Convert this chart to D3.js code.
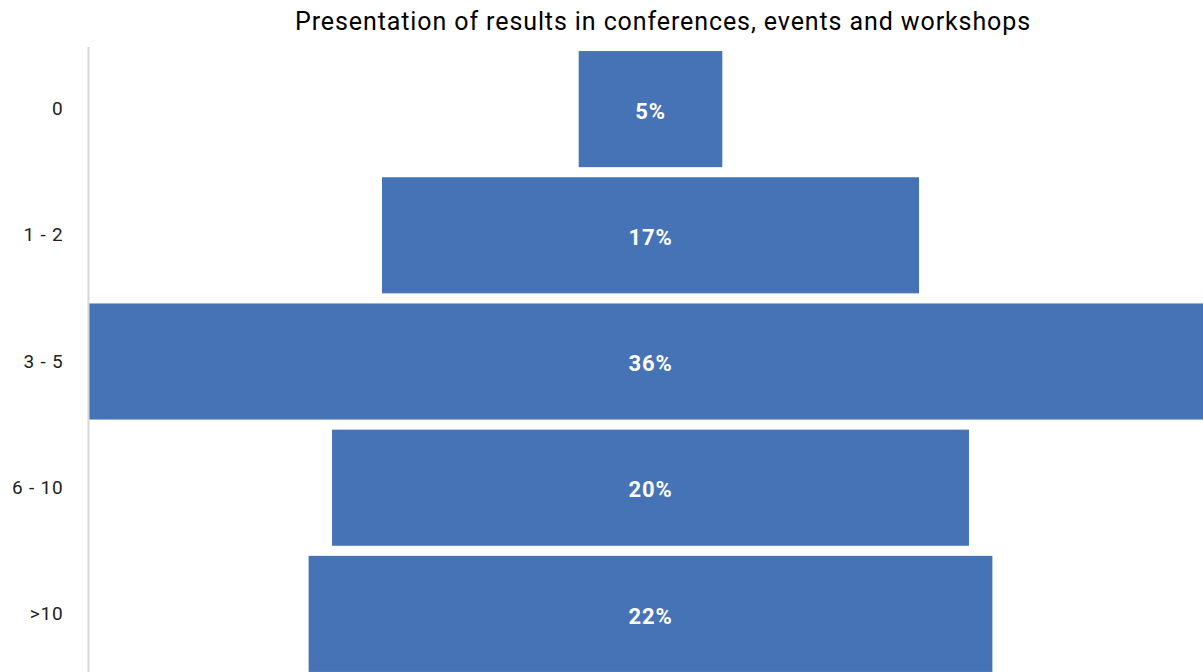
<!DOCTYPE html>
<html><head><meta charset="utf-8">
<script src="https://cdn.jsdelivr.net/npm/d3@7"></script>
<style>
html,body{margin:0;padding:0;background:#fff;overflow:hidden;}
svg{display:block;}
</style></head>
<body>
<svg id="chart" width="1203" height="672"></svg>
<script>
const categories = ["0", "1 - 2", "3 - 5", "6 - 10", ">10"];
const values = [4.6, 17.2, 36, 20.4, 21.9];
const valueLabels = ["5%", "17%", "36%", "20%", "22%"];
const title = "Presentation of results in conferences, events and workshops";

const svg = d3.select("#chart");
const W = 1203, H = 672;
const font = "Roboto, 'DejaVu Sans', sans-serif";

const y = d3.scaleBand().domain(categories).range([46, 677]).paddingInner(0.08).paddingOuter(0.04);
const half = d3.max(values) / 2;
const x = d3.scaleLinear().domain([-half, half]).range([88.5, 1212.5]);

svg.append("text")
  .attr("x", 663).attr("y", 30)
  .attr("text-anchor", "middle")
  .attr("font-family", font).attr("font-size", 25).attr("fill", "#000")
  .attr("letter-spacing", 0.9)
  .text(title);

const bars = svg.append("g");
bars.selectAll("rect").data(values).join("rect")
  .attr("x", d => x(-d / 2))
  .attr("width", d => x(d / 2) - x(-d / 2))
  .attr("y", (d, i) => y(categories[i]))
  .attr("height", y.bandwidth())
  .attr("fill", "#4672b6");

bars.selectAll("text").data(values).join("text")
  .attr("x", x(0))
  .attr("y", (d, i) => y(categories[i]) + y.bandwidth() / 2 + 2)
  .attr("dy", "0.35em")
  .attr("text-anchor", "middle")
  .attr("font-family", font).attr("font-weight", "bold").attr("font-size", 22)
  .attr("letter-spacing", 0.8)
  .attr("fill", "#fff")
  .text((d, i) => valueLabels[i]);

const axis = svg.append("g").attr("transform", "translate(88.5,0)")
  .call(d3.axisLeft(y).tickSize(0).tickPadding(25));
axis.select(".domain").attr("stroke", "#d9d9d9").attr("stroke-width", 2).attr("d", "M0,47V672");
axis.selectAll("text").attr("font-family", font).attr("font-size", 19).attr("fill", "#222")
  .attr("letter-spacing", 0.8);
</script>
</body></html>
